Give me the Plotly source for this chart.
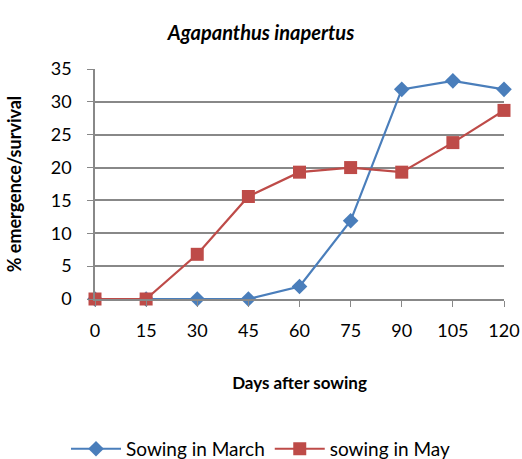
import plotly.graph_objects as go

days = [0, 15, 30, 45, 60, 75, 90, 105, 120]
march = [0, 0, 0, 0, 1.9, 11.9, 31.9, 33.2, 31.9]
may = [0, 0, 6.8, 15.6, 19.3, 20.0, 19.3, 23.8, 28.7]

blue = '#4a7ebb'
red = '#be4b48'
font = 'Lato, Open Sans, sans-serif'

fig = go.Figure()
fig.add_trace(go.Scatter(
    x=days, y=march, name='Sowing in March', mode='lines+markers',
    line=dict(color=blue, width=2.2),
    marker=dict(symbol='diamond', size=12, color=blue),
    cliponaxis=False))
fig.add_trace(go.Scatter(
    x=days, y=may, name='sowing in May', mode='lines+markers',
    line=dict(color=red, width=2.2),
    marker=dict(symbol='square', size=13, color=red),
    cliponaxis=False))

fig.update_layout(
    width=522, height=459,
    margin=dict(l=95, r=18, t=69, b=160),
    plot_bgcolor='white', paper_bgcolor='white',
    font=dict(family=font, size=18, color='black'),
    title=dict(text='<b><i>Agapanthus inapertus</i></b>', x=0.5, xanchor='center',
               xref='container', y=0.928, yanchor='middle', font=dict(size=20)),
    xaxis=dict(
        range=[0, 120], tickvals=days, showgrid=False, zeroline=False,
        showline=True, linecolor='#888888', linewidth=1.5,
        ticks='outside', ticklen=6, tickcolor='#888888', automargin=False,
        ticklabelstandoff=9,
        title=dict(text='<b>Days after sowing</b>', font=dict(size=17), standoff=37)),
    yaxis=dict(
        range=[0, 35], dtick=5, showgrid=True, gridcolor='#888888', gridwidth=1.5,
        zeroline=False, showline=True, linecolor='#888888', linewidth=1.5,
        ticks='outside', ticklen=6, tickcolor='#888888', automargin=False,
        ticklabelstandoff=12,
        title=dict(text='<b>% emergence/survival</b>', font=dict(size=18), standoff=24)),
    legend=dict(orientation='h', x=0.5, xanchor='center', xref='container',
                y=0.022, yanchor='middle', yref='container',
                font=dict(size=19), itemwidth=50),
)

# drop the page's default body margin so the figure fills the window
fig.write_html('out.html', config={'displayModeBar': False},
               post_script="document.body.style.margin='0';")
